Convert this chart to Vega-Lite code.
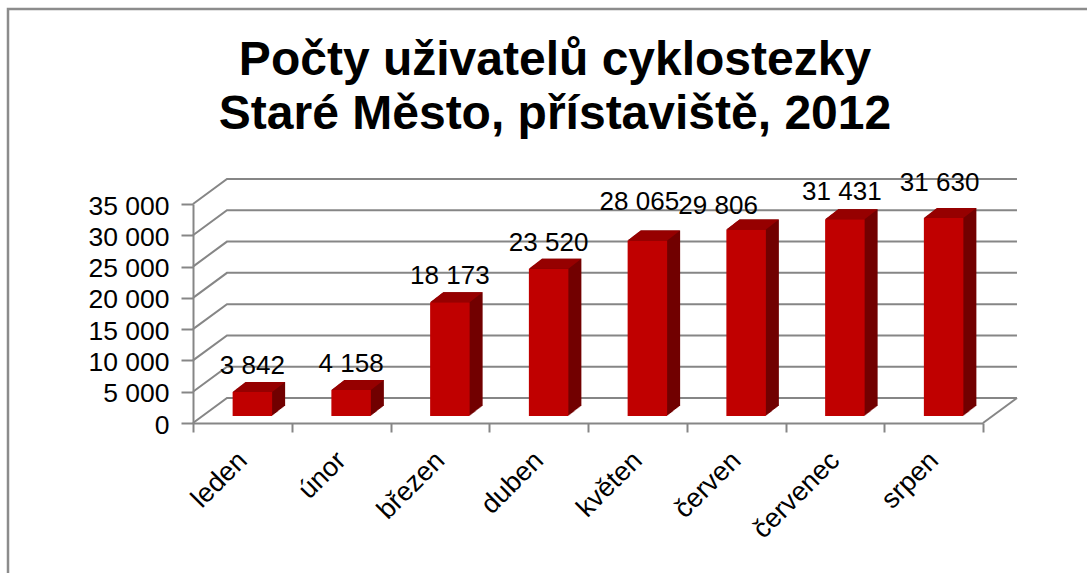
{
"$schema":"https://vega.github.io/schema/vega-lite/v6.json",
"width":1082,"height":567,
"autosize":{"type":"none"},
"padding":{"left":8,"top":9,"right":-3,"bottom":-3},
"background":"white",
"view":{"stroke":"#8c8c8c","strokeWidth":2.5,"fill":"white"},
"config":{"font":"Liberation Sans"},
"title":{"text":["Počty uživatelů cyklostezky","Stare\u0301 Město, přístaviště, 2012"],"font":"Liberation Sans","fontSize":48,"fontWeight":"bold","color":"#000000","lineHeight":54,"anchor":"middle","frame":"group","dx":6,"dy":172,"baseline":"alphabetic"},
"data":{"values":[
{"month":"leden","value":3842,"label":"3 842"},
{"month":"únor","value":4158,"label":"4 158"},
{"month":"březen","value":18173,"label":"18 173"},
{"month":"duben","value":23520,"label":"23 520"},
{"month":"květen","value":28065,"label":"28 065"},
{"month":"červen","value":29806,"label":"29 806"},
{"month":"červenec","value":31431,"label":"31 431"},
{"month":"srpen","value":31630,"label":"31 630"}
]},
"encoding":{
"x":{"field":"month","type":"nominal","sort":null,"scale":{"domain":["leden","únor","březen","duben","květen","červen","červenec","srpen"],"range":[185,975],"padding":0},
"axis":{"title":null,"offset":-153,"domainColor":"#868686","domainWidth":2,"tickColor":"#868686","tickWidth":2,"tickSize":9,"tickBand":"extent","labelAngle":-45,"labelAlign":"right","labelBaseline":"middle","labelFont":"Liberation Sans","labelFontSize":27,"labelColor":"#000000","labelPadding":24,"labelOverlap":false,"labelFlush":false,"grid":false}},
"y":{"field":"value","type":"quantitative","scale":{"domain":[0,35000],"range":[414,195],"nice":false,"zero":false},
"axis":{"title":null,"orient":"left","offset":-185,"values":[0,5000,10000,15000,20000,25000,30000,35000],"labelExpr":"replace(format(datum.value,',d'),',',' ')","domainColor":"#868686","domainWidth":2,"tickColor":"#868686","tickWidth":2,"tickSize":12,"labelFont":"Liberation Sans","labelFontSize":26.5,"labelColor":"#000000","labelPadding":12,"labelOffset":2,"grid":false,"labelOverlap":false,"labelFlush":false}}
},
"layer":[
{"data":{"values":[{"v":0},{"v":5000},{"v":10000},{"v":15000},{"v":20000},{"v":25000},{"v":30000},{"v":35000}]},
"mark":{"type":"point","shape":"M-49.4 0 L-15.4 -25 L774.6 -25","size":4,"filled":false,"stroke":"#868686","strokeWidth":2,"opacity":1,"fill":null},
"encoding":{"x":{"datum":"leden","type":"nominal"},"y":{"field":"v","type":"quantitative"}}},
{"data":{"values":[{"v":0}]},
"mark":{"type":"point","shape":"M740.6 0 L774.6 -25","size":4,"filled":false,"stroke":"#868686","strokeWidth":2,"opacity":1,"fill":null},
"encoding":{"x":{"datum":"leden","type":"nominal"},"y":{"field":"v","type":"quantitative"}}},
{"encoding":{"y2":{"datum":0}},"layer":[
{"mark":{"type":"bar","width":39.5,"color":"#720000","xOffset":23,"x2Offset":23,"yOffset":-17,"y2Offset":-17}},
{"mark":{"type":"bar","width":39.5,"color":"#720000","xOffset":22,"x2Offset":22,"yOffset":-16.2,"y2Offset":-16.2}},
{"mark":{"type":"bar","width":39.5,"color":"#720000","xOffset":21,"x2Offset":21,"yOffset":-15.5,"y2Offset":-15.5}},
{"mark":{"type":"bar","width":39.5,"color":"#720000","xOffset":20,"x2Offset":20,"yOffset":-14.7,"y2Offset":-14.7}},
{"mark":{"type":"bar","width":39.5,"color":"#720000","xOffset":19,"x2Offset":19,"yOffset":-13.9,"y2Offset":-13.9}},
{"mark":{"type":"bar","width":39.5,"color":"#720000","xOffset":18,"x2Offset":18,"yOffset":-13.2,"y2Offset":-13.2}},
{"mark":{"type":"bar","width":39.5,"color":"#720000","xOffset":17,"x2Offset":17,"yOffset":-12.4,"y2Offset":-12.4}},
{"mark":{"type":"bar","width":39.5,"color":"#720000","xOffset":16,"x2Offset":16,"yOffset":-11.6,"y2Offset":-11.6}},
{"mark":{"type":"bar","width":39.5,"color":"#720000","xOffset":15,"x2Offset":15,"yOffset":-10.8,"y2Offset":-10.8}},
{"mark":{"type":"bar","width":39.5,"color":"#720000","xOffset":14,"x2Offset":14,"yOffset":-10.1,"y2Offset":-10.1}},
{"mark":{"type":"bar","width":39.5,"color":"#720000","xOffset":13,"x2Offset":13,"yOffset":-9.3,"y2Offset":-9.3}},
{"mark":{"type":"bar","width":39.5,"color":"#720000","xOffset":12,"x2Offset":12,"yOffset":-8.5,"y2Offset":-8.5}},
{"mark":{"type":"bar","width":39.5,"color":"#720000","xOffset":11,"x2Offset":11,"yOffset":-7.8,"y2Offset":-7.8}},
{"mark":{"type":"bar","width":39.5,"color":"#c00000","xOffset":10,"x2Offset":10,"yOffset":-7,"y2Offset":-7}}
]},
{"mark":{"type":"point","shape":"M-19.75 0 L-6.75 -10 L32.75 -10 L19.75 0 Z","size":4,"filled":true,"fill":"#960000","stroke":null,"opacity":1,"xOffset":10,"yOffset":-7}},
{"transform":[{"filter":{"field":"month","oneOf":["leden","únor","březen","duben"]}}],"mark":{"type":"text","fontSize":26,"font":"Liberation Sans","color":"#000000","align":"center","baseline":"middle","xOffset":10,"yOffset":-33},"encoding":{"text":{"field":"label"}}},
{"transform":[{"filter":{"field":"month","equal":"květen"}}],"mark":{"type":"text","fontSize":26,"font":"Liberation Sans","color":"#000000","align":"center","baseline":"middle","xOffset":2,"yOffset":-45},"encoding":{"text":{"field":"label"}}},
{"transform":[{"filter":{"field":"month","equal":"červen"}}],"mark":{"type":"text","fontSize":26,"font":"Liberation Sans","color":"#000000","align":"center","baseline":"middle","xOffset":-18,"yOffset":-30},"encoding":{"text":{"field":"label"}}},
{"transform":[{"filter":{"field":"month","equal":"červenec"}}],"mark":{"type":"text","fontSize":26,"font":"Liberation Sans","color":"#000000","align":"center","baseline":"middle","xOffset":7,"yOffset":-34},"encoding":{"text":{"field":"label"}}},
{"transform":[{"filter":{"field":"month","equal":"srpen"}}],"mark":{"type":"text","fontSize":26,"font":"Liberation Sans","color":"#000000","align":"center","baseline":"middle","xOffset":6,"yOffset":-42},"encoding":{"text":{"field":"label"}}}
]
}
